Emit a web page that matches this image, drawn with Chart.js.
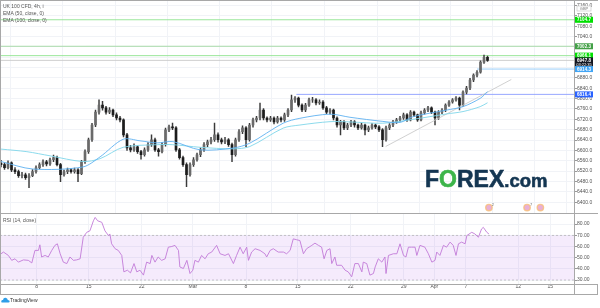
<!DOCTYPE html>
<html>
<head>
<meta charset="utf-8">
<script src="https://cdn.jsdelivr.net/npm/chart.js@4.4.1/dist/chart.umd.min.js"></script>
<style>
  body { margin: 0; background: #fff; width: 600px; height: 308px; overflow: hidden; position: relative; font-family: "Liberation Sans", Arial, sans-serif; }
  canvas { position: absolute; left: 0; }
  #main { top: 0; }
  #rsi { top: 213px; }
  .ln { position: absolute; background: #a8a8a8; }
  .txt { position: absolute; font-size: 5px; line-height: 6px; color: #555; white-space: nowrap; }
  #logo { position: absolute; left: 425px; top: 168px; font-weight: bold; font-size: 23px; line-height: 23px; color: #143652; white-space: nowrap; -webkit-text-stroke: 0.6px #143652; }
  #logo .o { color: #3db54a; -webkit-text-stroke: 0.6px #3db54a; }
  #logo .com { font-size: 18.5px; }
</style>
</head>
<body>
<canvas id="main" width="600" height="213"></canvas>
<canvas id="rsi" width="600" height="81"></canvas>

<div class="ln" style="left:0;top:0;width:598px;height:1px"></div>
<div class="ln" style="left:0;top:0;width:1px;height:294px"></div>
<div class="ln" style="left:0;top:213px;width:598px;height:1px"></div>
<div class="ln" style="left:0;top:284px;width:598px;height:1px"></div>
<div class="ln" style="left:0;top:294px;width:598px;height:1px"></div>
<div class="ln" style="left:574px;top:284px;width:1px;height:10px"></div>
<div class="ln" style="left:597px;top:284px;width:1px;height:10px"></div>

<div class="txt" style="left:3px;top:3px">UK 100 CFD, 4h, i</div>
<div class="txt" style="left:3px;top:10px">EMA (50, close, 0)</div>
<div class="txt" style="left:3px;top:17px">EMA (100, close, 0)</div>
<div class="txt" style="left:3px;top:217px">RSI (14, close)</div>
<div id="logo">F<span class="o">O</span>REX<span class="com">.com</span></div>
<div class="txt" style="left:1px;top:297px;color:#333">
  <svg width="9" height="6" viewBox="0 0 9 6" style="vertical-align:-1px"><path d="M1 5.5 Q0 5.5 0.3 4 Q0.8 2.6 2 3 Q2.4 0.6 4.5 0.8 Q6.6 1 6.8 3 Q8.8 3 8.7 4.6 Q8.5 5.5 7.5 5.5 Z" fill="#2e9ee8"/></svg>TradingView
</div>

<script>
// candles, one per 4h bar (index = bar number)
const candleOpen = [6550,6545,6533,6552,6525,6518,6502,6506,6495,6502, 6518,6533,6545,6556,6548,6564,6572,6545,6506,6518,
  6525,6518,6525,6510,6556,6595,6641,6698,6748,6775, 6764,6748,6756,6737,6725,6718,6660,6610,6602,6614,
  6595,6583,6602,6622,6641,6602,6595,6622,6679,6691, 6687,6602,6572,6545,6506,6545,6564,6583,6602,6622,
  6633,6641,6660,6641,6633,6641,6622,6583,6641,6672, 6687,6641,6698,6718,6725,6756,6725,6718,6725,6710,
  6725,6718,6737,6756,6795,6802,6775,6756,6775,6795, 6795,6783,6787,6764,6748,6756,6725,6698,6710,6687,
  6698,6710,6698,6687,6698,6679,6687,6698,6691,6679, 6641,6687,6698,6710,6718,6725,6737,6718,6748,6737,
  6718,6745,6756,6764,6748,6725,6748,6756,6775,6787, 6795,6802,6775,6825,6841,6872,6891,6902,6941,6960];
const candleHigh = [6562,6552,6560,6556,6534,6524,6515,6512,6510,6526, 6540,6552,6564,6562,6570,6582,6578,6550,6524,6532,
  6530,6532,6530,6562,6602,6648,6705,6756,6795,6790, 6770,6765,6760,6745,6732,6722,6666,6620,6625,6618,
  6600,6610,6630,6660,6648,6608,6630,6686,6698,6706, 6692,6608,6578,6552,6552,6572,6590,6610,6630,6640,
  6650,6706,6668,6648,6650,6646,6628,6648,6680,6695, 6692,6705,6725,6732,6783,6762,6730,6732,6730,6732,
  6730,6744,6762,6814,6808,6806,6780,6782,6802,6805, 6800,6795,6792,6770,6762,6760,6730,6716,6715,6705,
  6716,6715,6702,6705,6702,6694,6704,6702,6696,6684, 6694,6704,6716,6724,6732,6744,6742,6754,6752,6740,
  6752,6762,6770,6768,6752,6754,6762,6780,6792,6800, 6808,6806,6830,6848,6878,6896,6908,6946,6968,6964];
const candleLow = [6536,6526,6528,6518,6510,6496,6494,6488,6456,6498, 6512,6528,6538,6540,6542,6556,6540,6479,6500,6510,
  6512,6512,6479,6506,6550,6588,6635,6692,6740,6755, 6740,6742,6730,6718,6710,6652,6600,6594,6596,6588,
  6566,6578,6596,6615,6596,6578,6590,6616,6672,6680, 6596,6566,6538,6460,6500,6538,6558,6576,6596,6614,
  6625,6635,6632,6625,6626,6615,6556,6578,6635,6665, 6614,6636,6690,6710,6718,6718,6710,6712,6702,6705,
  6710,6712,6730,6750,6785,6768,6750,6750,6770,6785, 6776,6778,6758,6742,6740,6718,6690,6660,6680,6680,
  6692,6690,6680,6682,6660,6672,6682,6684,6672,6614, 6636,6680,6692,6704,6712,6720,6712,6714,6730,6712,
  6714,6740,6750,6742,6698,6720,6742,6750,6770,6782, 6790,6756,6770,6818,6835,6866,6884,6898,6936,6944];
const candleClose = [6545,6533,6552,6525,6518,6502,6506,6495,6502,6518, 6533,6545,6556,6548,6564,6572,6545,6506,6518,6525,
  6518,6525,6510,6556,6595,6641,6698,6748,6775,6764, 6748,6756,6737,6725,6718,6660,6610,6602,6614,6595,
  6583,6602,6622,6641,6602,6595,6622,6679,6691,6687, 6602,6572,6545,6506,6545,6564,6583,6602,6622,6633,
  6641,6660,6641,6633,6641,6622,6583,6641,6672,6687, 6641,6698,6718,6725,6756,6725,6718,6725,6710,6725,
  6718,6737,6756,6795,6802,6775,6756,6775,6795,6795, 6783,6787,6764,6748,6756,6725,6698,6710,6687,6698,
  6710,6698,6687,6698,6679,6687,6698,6691,6679,6641, 6687,6698,6710,6718,6725,6737,6718,6748,6737,6718,
  6745,6756,6764,6748,6725,6748,6756,6775,6787,6795, 6802,6775,6825,6841,6872,6891,6902,6941,6960,6948];

// moving averages (bar index, price)
const ema50Idx = [0, 9.1, 23.4, 28.3, 34.9, 39.7, 44.6, 49.1, 56.9, 66.3, 71.1, 80.6, 85.4, 94, 99.7, 109.1, 114, 117.7, 127.4, 132, 136.9, 139];
const ema50Val = [6557, 6528, 6536, 6575, 6643, 6637, 6629, 6634, 6602, 6609, 6628, 6705, 6724, 6740, 6728, 6712, 6708, 6730, 6756, 6769, 6801, 6827];
const ema100Idx = [0, 7.4, 14, 23.4, 28.3, 34.9, 44.6, 49.1, 56.9, 66.3, 71.1, 80.6, 85.4, 94, 99.7, 109.1, 117.7, 127.4, 132, 136.9, 139];
const ema100Val = [6605, 6595, 6579, 6557, 6568, 6612, 6622, 6622, 6612, 6606, 6615, 6686, 6698, 6711, 6710, 6705, 6720, 6741, 6750, 6769, 6784];

// RSI (14)
const rsiIdx = [0,0.7,2.1,3.05,4,4.95,6.4,7.8,8.8,9.7,10.7,11.1,11.6,12.6,13.5,14.5,15.4,16.1,16.9,17.8,18.8,19.7,20.7,21.6,22.6,
  23.5,24.5,25.4,26.4,26.9,27.6,28.8,29.7,30.7,31.1,31.6,32.6,33.5,34.5,35.1,36.1,37,38,38.8,39.7,40.7,41.6,42.6,43.1,44,44.9,
  45.9,46.9,47.8,48.8,49.7,50.7,51.1,52.1,53.1,54,54.8,55.4,56.4,57.3,58.3,59.2,60.2,61.6,62.6,64,65,66.4,67.3,68.3,69.2,70.2,
  70.7,71.6,72.6,74,75.4,75.9,76.9,77.8,79.2,80.7,81.6,82.6,83.5,84.5,85.4,86.4,87.3,88.8,89.7,90.7,91.6,92.3,93.1,94,94.5,95.4,
  95.9,97.3,98.3,99.2,100.2,101.1,102.1,103.1,103.5,104.5,105.4,106.4,106.9,107.8,108.8,109.7,110,110.7,112.1,113.1,114,115,
  115.7,116.4,117.3,118.3,118.8,119.7,121.1,122.1,123.1,124,124.5,125.4,126.4,127.3,128.3,129.2,130,130.7,131.6,132.6,133.1,
  134.5,135.4,136.4,137.3,137.8,138.8,139.4];
const rsiVal = [53.5,55,52,47.6,49,46,48,47.6,45.3,56.5,56.5,61.5,50.6,52,50.6,56.5,61,62.4,53.5,46,44.7,50.6,47.6,48,49,
  68.3,72.7,74,83,86,83,81.6,74,69.8,71.2,62.4,58,56.5,52,37.3,38.8,36.4,44.7,37.3,38.8,34.4,46,44.7,52,46,50.6,
  47.6,49,59.4,60,61,56.5,41.7,40.3,47.6,35.8,38.8,47.6,46,52,49,53.5,55,61,53.5,52,53.5,44.7,52,59.4,53.5,59.4,
  47.6,55,58,56.5,53.5,50.6,56.5,58,55,55,53.5,56.5,66.8,66,65.3,53.5,58,61,63,61,59.4,49,56.5,58,44.7,50.6,
  43.2,43.2,38.8,37.3,32.9,44.7,44.7,37.3,46,44.7,34.4,35.8,41.7,49,46,50.6,35.8,52,53.5,53.5,62.4,52,
  50.6,59.4,59.4,59.4,52,61,59.4,53.5,46,47.6,55,52,61,59.4,63.9,61,52,62.4,63.9,62.4,69.8,
  72.7,71.2,68.3,75.7,77.1,72.7,71.2];

// horizontal levels drawn on the chart
const levelPrice = [7104.7, 7002.3, 6966.1, 6947.8, 6914.3, 6816.4];
const levelStart = [-0.29, -0.29, -0.29, -0.29, 136, 84.4];
const levelColor = ['#8fe38f', '#9fd89f', '#8fe38f', '#c9c9c9', '#90caf9', '#8c9eff'];
const tagColor = ['#00e000', '#43a047', '#00e000', '#131722', '#42a5f5', '#2962ff'];
const tagExtra = ['', '', '', '03:22:35', '', ''];

// trend line
const trendIdx = [109.9, 145.8];
const trendPrice = [6615, 6874];

// event markers
const eventIdx = [139.4, 150.3, 154.1];
const eventPrice = [6379, 6379, 6379];
const eventCount = ['2', '7', ''];

// axes
const priceTicks = [6400, 6440, 6480, 6520, 6560, 6600, 6640, 6680, 6720, 6760, 6800, 6840, 6880, 6920, 6960, 7000, 7040, 7080, 7120, 7160];
const rsiTicks = [30, 40, 50, 60, 70, 80];
const dateTickIdx = [10.2, 25.1, 40.2, 54.8, 70, 84.8, 99.9, 115.1, 123.8, 132.8, 147.8, 156.9];
const dateTickLabels = ['8', '15', '22', 'Mar', '8', '15', '22', '29', 'Apr', '7', '12', '15'];

const X_MIN = -0.29, X_MAX = 163.71;
const FONT = '"Liberation Sans", Arial, sans-serif';
const GRID = '#f1f3f7';

function pts(xs, ys) { return xs.map((x, i) => ({ x: x, y: ys[i] })); }

// price labels on the right axis, small counts on the event markers
const priceTags = {
  id: 'priceTags',
  afterDraw(chart) {
    const ctx = chart.ctx, y = chart.scales.y, x = chart.scales.x;
    ctx.save();
    ctx.textAlign = 'center';
    ctx.textBaseline = 'middle';
    levelPrice.forEach((v, i) => {
      const py = y.getPixelForValue(v);
      const h = tagExtra[i] ? 10 : 6;
      ctx.fillStyle = tagColor[i];
      ctx.fillRect(575, py - 3, 18, h);
      ctx.fillStyle = '#fff';
      ctx.font = 'bold 4.5px ' + FONT;
      ctx.fillText(v.toFixed(1), 584, py + 0.3);
      if (tagExtra[i]) {
        ctx.font = '4px ' + FONT;
        ctx.fillText(tagExtra[i], 584, py + 4.3);
      }
    });
    ctx.fillStyle = '#777';
    ctx.font = '4px ' + FONT;
    eventIdx.forEach((v, i) => {
      if (eventCount[i]) ctx.fillText(eventCount[i], x.getPixelForValue(v) + 4, y.getPixelForValue(eventPrice[i]) - 3);
    });
    // currency box
    ctx.fillStyle = '#fff';
    ctx.fillRect(577, 6, 14, 5);
    ctx.strokeStyle = '#c4c4c4';
    ctx.lineWidth = 0.6;
    ctx.strokeRect(577, 6, 14, 5);
    ctx.fillStyle = '#777';
    ctx.fillText('GBP', 584, 8.7);
    ctx.restore();
  }
};

const datasets = [
  { type: 'line', data: pts(ema50Idx, ema50Val), borderColor: '#5fb1f0', borderWidth: 0.9, pointRadius: 0, tension: 0.3 },
  { type: 'line', data: pts(ema100Idx, ema100Val), borderColor: '#7fd6ea', borderWidth: 0.9, pointRadius: 0, tension: 0.3 },
  { type: 'line', data: pts(trendIdx, trendPrice), borderColor: '#c4c4c4', borderWidth: 0.8, pointRadius: 0 },
  { type: 'scatter', data: pts(eventIdx, eventPrice), backgroundColor: 'rgba(225,150,200,0.75)', borderColor: 'rgba(247,190,120,0.8)', borderWidth: 1.4, pointRadius: 3.2 },
  {
    type: 'bar', grouped: false, barThickness: 2,
    data: candleClose.map((c, i) => ({ x: i, y: [candleOpen[i], c] })),
    backgroundColor: candleClose.map((c, i) => c >= candleOpen[i] ? '#6a6a6a' : '#1c1c1c')
  },
  {
    type: 'bar', grouped: false, barThickness: 0.8,
    data: candleClose.map((c, i) => ({ x: i, y: [candleLow[i], candleHigh[i]] })),
    backgroundColor: '#3a3a3a'
  }
];
levelPrice.forEach((v, i) => {
  datasets.push({ type: 'line', data: [{ x: levelStart[i], y: v }, { x: X_MAX, y: v }], borderColor: levelColor[i], borderWidth: 0.9, pointRadius: 0 });
});

new Chart(document.getElementById('main'), {
  type: 'bar',
  data: { datasets: datasets },
  options: {
    responsive: false, animation: false, devicePixelRatio: 1,
    layout: { padding: 0, autoPadding: false },
    plugins: { legend: { display: false }, tooltip: { enabled: false } },
    scales: {
      x: {
        type: 'linear', min: X_MIN, max: X_MAX, offset: false,
        afterBuildTicks: s => { s.ticks = dateTickIdx.map(v => ({ value: v })); },
        afterFit: s => { s.height = 0; },
        ticks: { display: false },
        grid: { color: GRID, drawTicks: false },
        border: { display: false }
      },
      y: {
        position: 'right', min: 6360, max: 7179.2,
        afterBuildTicks: s => { s.ticks = priceTicks.map(v => ({ value: v })); },
        afterFit: s => { s.width = 26; },
        ticks: { color: '#555', padding: 0, font: { size: 5, family: FONT, lineHeight: 0.2 }, callback: v => v.toFixed(1) },
        grid: { color: GRID, tickColor: '#999', tickLength: 3 },
        border: { color: '#a8a8a8' }
      }
    }
  },
  plugins: [priceTags]
});

new Chart(document.getElementById('rsi'), {
  type: 'line',
  data: {
    datasets: [
      { data: pts(rsiIdx, rsiVal), borderColor: '#c27ad8', borderWidth: 0.9, pointRadius: 0 },
      { data: [{ x: X_MIN, y: 70 }, { x: X_MAX, y: 70 }], borderColor: '#b0b0b0', borderWidth: 0.7, borderDash: [2, 2], pointRadius: 0, fill: '+1', backgroundColor: 'rgba(170, 90, 230, 0.12)' },
      { data: [{ x: X_MIN, y: 30 }, { x: X_MAX, y: 30 }], borderColor: '#b0b0b0', borderWidth: 0.7, borderDash: [2, 2], pointRadius: 0 }
    ]
  },
  options: {
    responsive: false, animation: false, devicePixelRatio: 1,
    layout: { padding: 0, autoPadding: false },
    plugins: { legend: { display: false }, tooltip: { enabled: false } },
    scales: {
      x: {
        type: 'linear', min: X_MIN, max: X_MAX, offset: false,
        afterBuildTicks: s => { s.ticks = dateTickIdx.map(v => ({ value: v })); },
        afterFit: s => { s.height = 10; },
        ticks: { color: '#555', padding: 2, autoSkip: false, maxRotation: 0, font: { size: 5, family: FONT, lineHeight: 0.2 }, callback: (v, i) => dateTickLabels[i] },
        grid: { color: GRID, drawTicks: false },
        border: { display: false }
      },
      y: {
        position: 'right', min: 26.45, max: 89.5,
        afterBuildTicks: s => { s.ticks = rsiTicks.map(v => ({ value: v })); },
        afterFit: s => { s.width = 26; },
        ticks: { color: '#555', padding: 0, font: { size: 5, family: FONT, lineHeight: 0.2 }, callback: v => v.toFixed(2) },
        grid: { color: GRID, tickColor: '#999', tickLength: 3 },
        border: { color: '#a8a8a8' }
      }
    }
  }
});
</script>
</body>
</html>
